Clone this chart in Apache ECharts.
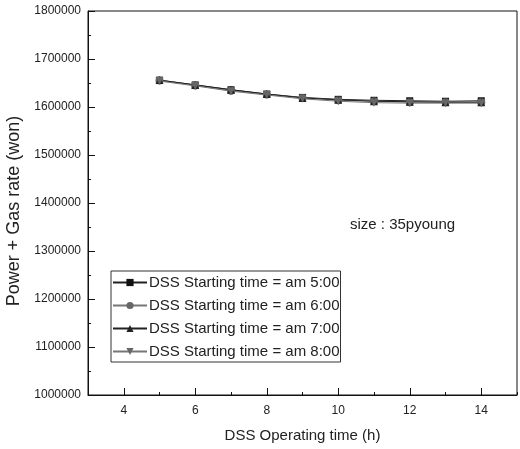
<!DOCTYPE html>
<html>
<head>
<meta charset="utf-8">
<script src="https://cdn.jsdelivr.net/npm/echarts@6/dist/echarts.min.js"></script>
<style>
  html, body { margin: 0; padding: 0; background: #fff; }
  #chart { width: 520px; height: 449px; }
</style>
</head>
<body>
<div id="chart"></div>
<script>
const hours = [5, 6, 7, 8, 9, 10, 11, 12, 13, 14];
const am5 = [1656000, 1646000, 1636000, 1627000, 1620000, 1616000, 1614000, 1613000, 1612000, 1613000];
const am6 = [1655000, 1645000, 1634000, 1626000, 1619000, 1614000, 1612000, 1610000, 1610000, 1610000];
const am7 = [1656000, 1646000, 1636000, 1627000, 1619000, 1615000, 1612000, 1611000, 1610000, 1610000];
const am8 = [1654000, 1644000, 1633000, 1625000, 1617000, 1612000, 1609000, 1608000, 1608000, 1608000];
const seriesNames = [
  'DSS Starting time = am 5:00',
  'DSS Starting time = am 6:00',
  'DSS Starting time = am 7:00',
  'DSS Starting time = am 8:00',
];
const xMajor = [4, 6, 8, 10, 12, 14];

const FONT = "'Liberation Sans', Arial, sans-serif";
const TEXT = '#222';

const chart = echarts.init(document.getElementById('chart'));

const pair = (ys) => hours.map((h, i) => [h, ys[i]]);

const makeSeries = (name, ys, symbol, size, color, lineColor, rotate) => ({
  name,
  type: 'line',
  data: pair(ys),
  symbol,
  symbolSize: size,
  symbolRotate: rotate || 0,
  showSymbol: true,
  itemStyle: { color },
  lineStyle: { color: lineColor, width: 1 },
  z: 3,
});

chart.setOption({
  animation: false,
  grid: {
    left: 88, right: 3, top: 11, bottom: 54,
    outerBoundsMode: 'none',
    containLabel: false,
    show: true, borderColor: '#111', borderWidth: 1,
  },
  xAxis: [
    {
      type: 'value',
      min: 3, max: 15, interval: 1,
      name: 'DSS Operating time (h)',
      nameLocation: 'middle',
      nameGap: 33,
      nameTextStyle: { fontFamily: FONT, fontSize: 15, color: TEXT },
      axisLine: { lineStyle: { color: '#111' } },
      axisTick: { inside: true, length: 3, lineStyle: { color: '#111' } },
      axisLabel: { show: false },
      splitLine: { show: false },
    },
    {
      type: 'value',
      position: 'bottom',
      min: 3, max: 15,
      axisLine: { show: false },
      axisTick: { inside: true, length: 7, customValues: xMajor, lineStyle: { color: '#111' } },
      axisLabel: { customValues: xMajor, margin: 10, fontFamily: FONT, fontSize: 12, color: TEXT },
      splitLine: { show: false },
    },
  ],
  yAxis: {
    type: 'value',
    min: 1000000, max: 1800000, interval: 100000,
    axisLine: { show: true, lineStyle: { color: '#111' } },
    axisTick: { inside: true, length: 7, lineStyle: { color: '#111' } },
    minorTick: { show: true, splitNumber: 2, length: 3, lineStyle: { color: '#111' } },
    axisLabel: {
      margin: 7, fontFamily: FONT, fontSize: 12, color: TEXT,
      formatter: (v) => String(v),
    },
    splitLine: { show: false },
  },
  legend: {
    orient: 'vertical',
    left: 111, top: 271,
    data: seriesNames,
    itemWidth: 34, itemHeight: 9, itemGap: 8,
    padding: [4, 1, 3, 1],
    borderColor: '#333', borderWidth: 1,
    textStyle: { fontFamily: FONT, fontSize: 15, color: TEXT, padding: [0, 0, 0, -3] },
  },
  graphic: [
    {
      type: 'text',
      left: 350, top: 217,
      style: { text: 'size : 35pyoung', font: '15px ' + FONT, fill: TEXT },
    },
    {
      type: 'text',
      x: 14, y: 211,
      rotation: Math.PI / 2,
      style: {
        text: 'Power + Gas rate (won)', font: '18px ' + FONT, fill: TEXT,
        align: 'center', verticalAlign: 'middle',
      },
    },
  ],
  series: [
    makeSeries(seriesNames[0], am5, 'rect', 7, '#111', '#222'),
    makeSeries(seriesNames[1], am6, 'circle', 8, '#666', '#777'),
    makeSeries(seriesNames[2], am7, 'triangle', 8, '#222', '#222'),
    makeSeries(seriesNames[3], am8, 'triangle', 8, '#666', '#777', 180),
  ],
});
</script>
</body>
</html>
